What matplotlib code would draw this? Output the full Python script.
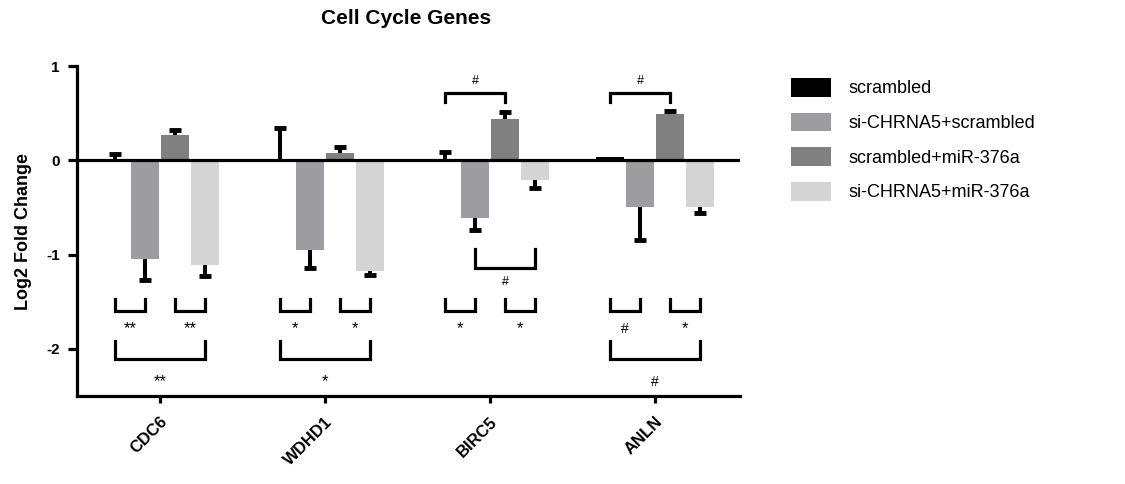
import matplotlib
matplotlib.use("Agg")
import matplotlib.pyplot as plt
import numpy as np

plt.rcParams['font.family'] = ['Liberation Sans', 'DejaVu Sans']

genes = ["CDC6", "WDHD1", "BIRC5", "ANLN"]
series = ["scrambled", "si-CHRNA5+scrambled", "scrambled+miR-376a", "si-CHRNA5+miR-376a"]
colors = ["#000000", "#9d9ca1", "#808080", "#d4d4d4"]

scrambled = [0.0, 0.0, 0.0, 0.03]
si_scr = [-1.05, -0.95, -0.61, -0.50]
scr_mir = [0.27, 0.08, 0.44, 0.49]
si_mir = [-1.11, -1.17, -0.21, -0.50]
values = [scrambled, si_scr, scr_mir, si_mir]

err_scrambled = [0.07, 0.34, 0.09, 0.0]
err_si_scr = [0.22, 0.19, 0.13, 0.35]
err_scr_mir = [0.05, 0.06, 0.07, 0.03]
err_si_mir = [0.12, 0.05, 0.08, 0.06]
errors = [err_scrambled, err_si_scr, err_scr_mir, err_si_mir]

small_labels = [["**", "**"], ["*", "*"], ["*", "*"], ["#", "*"]]
big_labels = ["**", "*", None, "#"]
top_labels = [None, None, "#", "#"]
mid_labels = [None, None, "#", None]

fig = plt.figure(figsize=(11.25, 4.84), dpi=100)
ax = fig.add_axes([77/1125, 1-396/484, (740-77)/1125, (396-66)/484])

centers = np.array([2.767 + 5.5*i for i in range(len(genes))])
offsets = [-1.5, -0.5, 0.5, 1.5]
width = 0.92
LW = 2.3

handles = []
for k in range(4):
    xs = centers + offsets[k]
    v = np.array(values[k])
    e = np.array(errors[k])
    h = ax.bar(xs, v, width=width, color=colors[k], label=series[k], zorder=2)
    handles.append(h)
    ends = np.where(v < 0, v - e, v + e)
    mask = e > 0
    ax.vlines(xs[mask], v[mask], ends[mask], color='black', lw=LW + 0.6, zorder=3)
    ax.plot(xs[mask], ends[mask], linestyle='none', marker='_', markersize=8,
            markeredgewidth=3.5, color='black', zorder=3)

ax.axhline(0, color='black', lw=LW, zorder=4)

def bracket(x1, x2, y_bar, y_prong, label, ty, fs=12):
    ax.plot([x1, x1, x2, x2], [y_prong, y_bar, y_bar, y_prong], color='black',
            lw=LW, solid_joinstyle='miter', zorder=5, clip_on=False)
    if label:
        fsz = fs if label != "#" else fs - 2
        ax.text((x1+x2)/2, ty, label, ha='center', va='center', fontsize=fsz, zorder=6)

for i, c in enumerate(centers):
    b = [c + o for o in offsets]
    bracket(b[0], b[1], -1.60, -1.47, small_labels[i][0], -1.79)
    bracket(b[2], b[3], -1.60, -1.47, small_labels[i][1], -1.79)
    if big_labels[i]:
        bracket(b[0], b[3], -2.11, -1.92, big_labels[i], -2.35)
    if top_labels[i]:
        bracket(b[0], b[2], 0.71, 0.62, top_labels[i], 0.84, fs=11)
    if mid_labels[i]:
        bracket(b[1], b[3], -1.14, -0.94, mid_labels[i], -1.29, fs=11)

ax.set_xlim(0, 22.1)
ax.set_ylim(-2.5, 1)
ax.set_yticks([1, 0, -1, -2])
ax.set_yticklabels(["1", "0", "-1", "-2"], fontweight='bold', fontsize=11)
ax.set_xticks(centers)
ax.set_xticklabels(genes, rotation=45, ha='right', va='top', rotation_mode='anchor',
                   fontweight='bold', fontsize=12)
for s in ['top', 'right']:
    ax.spines[s].set_visible(False)
for s in ['left', 'bottom']:
    ax.spines[s].set_linewidth(LW)
ax.tick_params(axis='y', direction='out', length=6.5, width=LW, pad=6)
ax.tick_params(axis='x', direction='out', length=5, width=LW, pad=8)

ax.set_ylabel("Log2 Fold Change", fontweight='bold', fontsize=13, labelpad=10)

fig.text(406/1125, 1-19/484, "Cell Cycle Genes", ha='center', va='center',
         fontweight='bold', fontsize=15)

fig.legend(handles=handles, labels=series, loc='upper left',
           bbox_to_anchor=(791/1125, 1-78/484), frameon=False, fontsize=13,
           handlelength=2.2, handleheight=1.2, labelspacing=0.85, handletextpad=1.0,
           borderpad=0, borderaxespad=0)

fig.savefig("out.png", dpi=100)
